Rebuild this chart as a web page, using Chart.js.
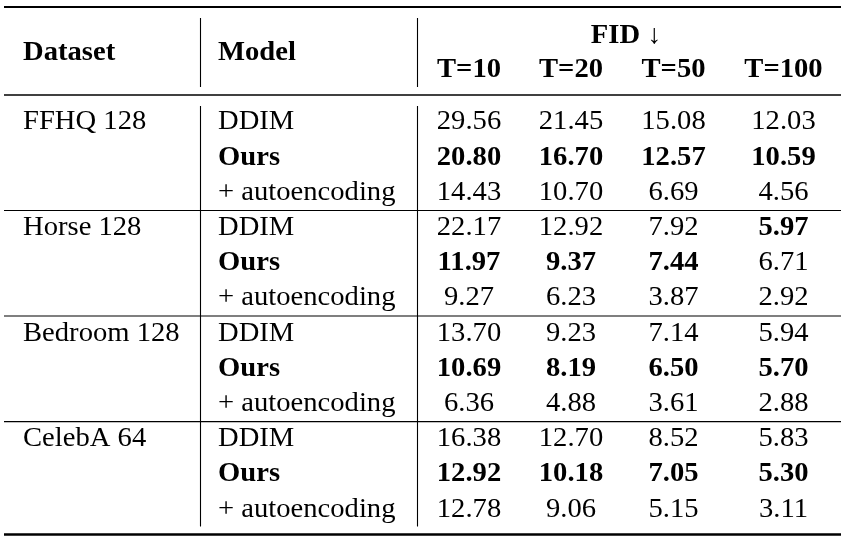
<!DOCTYPE html>
<html>
<head>
<meta charset="utf-8">
<script src="https://cdn.jsdelivr.net/npm/chart.js@4.4.0/dist/chart.umd.min.js"></script>
<style>
  html, body { margin: 0; padding: 0; background: #fff; }
  #wrap { width: 845px; height: 542px; }
</style>
</head>
<body>
<div id="wrap"><canvas id="fidTable"></canvas></div>
<script>
// table data
const datasetNames = ["FFHQ 128", "Horse 128", "Bedroom 128", "CelebA 64"];
const modelNames = ["DDIM", "Ours", "+ autoencoding"];
const stepLabels = ["T=10", "T=20", "T=50", "T=100"];
const headerLabels = ["Dataset", "Model", "FID"];

// rows: DDIM, Ours, + autoencoding ; columns: T=10, T=20, T=50, T=100
const ffhqFid = [[29.56, 21.45, 15.08, 12.03], [20.80, 16.70, 12.57, 10.59], [14.43, 10.70, 6.69, 4.56]];
const horseFid = [[22.17, 12.92, 7.92, 5.97], [11.97, 9.37, 7.44, 6.71], [9.27, 6.23, 3.87, 2.92]];
const bedroomFid = [[13.70, 9.23, 7.14, 5.94], [10.69, 8.19, 6.50, 5.70], [6.36, 4.88, 3.61, 2.88]];
const celebaFid = [[16.38, 12.70, 8.52, 5.83], [12.92, 10.18, 7.05, 5.30], [12.78, 9.06, 5.15, 3.11]];
const allFid = [ffhqFid, horseFid, bedroomFid, celebaFid];

// layout (x in canvas units, y in row units: body row i sits at i)
const layout = {
    colX: [23, 218, 469, 571, 673.5, 783.5],
    headRow: -1.974, fidRow: -2.457, stepRow: -1.491,
    topRule: -3.48, midRule: -0.98, bottomRule: 11.506,
    groupRules: [2.30, 5.30, 8.30],
    vLines: [200.5, 417.5],
    headV: [-3.168, -1.207], bodyV: [-0.668, 11.278],
    ruleX: [4, 841]
};
const FONT = '27px "Liberation Serif"';
const BOLD = 'bold 27px "Liberation Serif"';
const STRETCH = 1.06;

function drawText(ctx, text, px, py, font, align) {
    ctx.save();
    ctx.font = font;
    ctx.textBaseline = "alphabetic";
    ctx.textAlign = align;
    ctx.translate(px, py);
    ctx.scale(STRETCH, 1);
    ctx.fillText(text, 0, 0);
    ctx.restore();
}

// build one scatter series per column
const rowsPerGroup = modelNames.length;
const datasetCol = { label: "Dataset", data: [], align: "left" };
const modelCol = { label: "Model", data: [], align: "left" };
const stepCols = stepLabels.map(s => ({ label: s, data: [], align: "center" }));

allFid.forEach((group, g) => {
    datasetCol.data.push({ x: layout.colX[0], y: g * rowsPerGroup, text: datasetNames[g], bold: false });
    group.forEach((row, r) => {
        const rowIdx = g * rowsPerGroup + r;
        modelCol.data.push({ x: layout.colX[1], y: rowIdx, text: modelNames[r], bold: modelNames[r] === "Ours" });
        row.forEach((v, c) => {
            // best of DDIM vs Ours is bold
            const best = Math.min(group[0][c], group[1][c]);
            stepCols[c].data.push({ x: layout.colX[c + 2], y: rowIdx, text: v.toFixed(2), bold: r < 2 && v === best });
        });
    });
});

const tablePlugin = {
    id: "tableText",
    beforeDatasetsDraw(chart) {
        const { ctx, scales: { x, y } } = chart;
        ctx.save();
        ctx.strokeStyle = "#000";
        const hline = (v, w) => {
            ctx.lineWidth = w;
            ctx.beginPath();
            ctx.moveTo(x.getPixelForValue(layout.ruleX[0]), y.getPixelForValue(v));
            ctx.lineTo(x.getPixelForValue(layout.ruleX[1]), y.getPixelForValue(v));
            ctx.stroke();
        };
        hline(layout.topRule, 2.2);
        hline(layout.midRule, 1.4);
        hline(layout.bottomRule, 2.4);
        layout.groupRules.forEach(v => hline(v, 1.1));
        ctx.lineWidth = 1.1;
        layout.vLines.forEach(vx => {
            [layout.headV, layout.bodyV].forEach(span => {
                ctx.beginPath();
                ctx.moveTo(x.getPixelForValue(vx), y.getPixelForValue(span[0]));
                ctx.lineTo(x.getPixelForValue(vx), y.getPixelForValue(span[1]));
                ctx.stroke();
            });
        });
        ctx.restore();
    },
    afterDatasetsDraw(chart) {
        const { ctx, scales: { x, y } } = chart;
        ctx.fillStyle = "#000";
        // header
        drawText(ctx, headerLabels[0], x.getPixelForValue(layout.colX[0]), y.getPixelForValue(layout.headRow), BOLD, "left");
        drawText(ctx, headerLabels[1], x.getPixelForValue(layout.colX[1]), y.getPixelForValue(layout.headRow), BOLD, "left");
        const fidCx = (x.getPixelForValue(layout.colX[2]) + x.getPixelForValue(layout.colX[5])) / 2;
        ctx.font = BOLD;
        const wFid = ctx.measureText(headerLabels[2]).width * STRETCH;
        ctx.font = FONT;
        const wArrow = ctx.measureText(" \u2193").width * STRETCH;
        const fidLeft = fidCx - (wFid + wArrow) / 2;
        const fidY = y.getPixelForValue(layout.fidRow);
        drawText(ctx, headerLabels[2], fidLeft, fidY, BOLD, "left");
        drawText(ctx, " \u2193", fidLeft + wFid, fidY, FONT, "left");
        stepLabels.forEach((s, c) => {
            drawText(ctx, s, x.getPixelForValue(layout.colX[c + 2]), y.getPixelForValue(layout.stepRow), BOLD, "center");
        });
        // body cells from dataset elements
        chart.data.datasets.forEach((ds, i) => {
            const meta = chart.getDatasetMeta(i);
            meta.data.forEach((el, k) => {
                const p = ds.data[k];
                drawText(ctx, p.text, el.x, el.y, p.bold ? BOLD : FONT, ds.align);
            });
        });
    }
};

new Chart(document.getElementById("fidTable"), {
    type: "scatter",
    data: { datasets: [datasetCol, modelCol, ...stepCols] },
    options: {
        responsive: true,
        maintainAspectRatio: false,
        animation: false,
        devicePixelRatio: 1,
        events: [],
        layout: { padding: 0 },
        elements: { point: { radius: 0, hoverRadius: 0 } },
        plugins: { legend: { display: false }, tooltip: { enabled: false } },
        scales: {
            x: { type: "linear", display: false, min: 0, max: 845 },
            y: { type: "linear", display: false, reverse: true, min: -3.679, max: 11.719 }
        }
    },
    plugins: [tablePlugin]
});
</script>
</body>
</html>
